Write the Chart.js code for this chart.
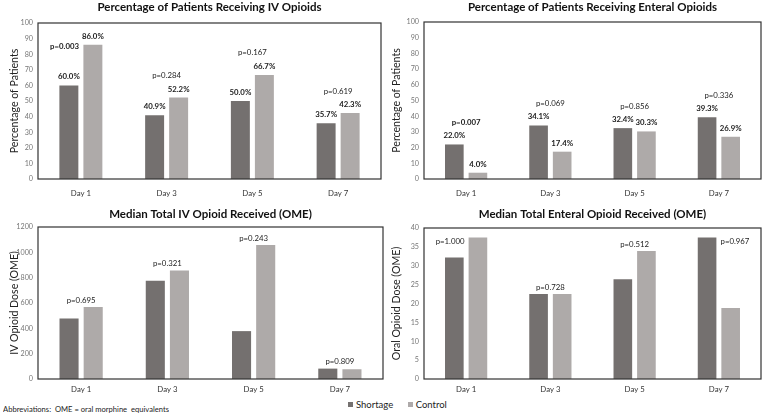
<!DOCTYPE html>
<html>
<head>
<meta charset="utf-8">
<script src="https://cdn.jsdelivr.net/npm/chart.js@4.4.0/dist/chart.umd.min.js"></script>
<style>
  body { margin: 0; background: #fff; font-family: Lato, sans-serif; }
  #wrap { position: relative; width: 764px; height: 416px; overflow: hidden; }
  .box { position: absolute; }
  #abbr { position: absolute; left: 3px; top: 404px; font-size: 7.6px; color: #222; white-space: pre; opacity: 0.99; }
  #legend { position: absolute; left: 348px; top: 399px; font-size: 9.5px; color: #222; opacity: 0.99; }
  #legend span.sw { display: inline-block; width: 5px; height: 5px; margin-right: 3px; vertical-align: 1px; }
  #legend span.it { margin-right: 12px; }
</style>
</head>
<body>
<div id="wrap">
  <div class="box" style="left:0;top:0"><canvas id="c1" width="384" height="200"></canvas></div>
  <div class="box" style="left:382px;top:0"><canvas id="c2" width="382" height="200"></canvas></div>
  <div class="box" style="left:0;top:200px"><canvas id="c3" width="386" height="198"></canvas></div>
  <div class="box" style="left:382px;top:200px"><canvas id="c4" width="382" height="198"></canvas></div>
  <div id="abbr">Abbreviations:  OME = oral morphine  equivalents</div>
  <div id="legend">
    <span class="it"><span class="sw" style="background:#74706f"></span>Shortage</span>
    <span class="it"><span class="sw" style="background:#aeaaa9"></span>Control</span>
  </div>
</div>
<script>
const FONT = 'Lato';
const days = ['Day 1', 'Day 3', 'Day 5', 'Day 7'];

// % of patients receiving IV opioids
const ivPctShortage = [60.0, 40.9, 50.0, 35.7];
const ivPctControl = [86.0, 52.2, 66.7, 42.3];
const ivPctP = ['0.003', '0.284', '0.167', '0.619'];

// % of patients receiving enteral opioids
const entPctShortage = [22.0, 34.1, 32.4, 39.3];
const entPctControl = [4.0, 17.4, 30.3, 26.9];
const entPctP = ['0.007', '0.069', '0.856', '0.336'];

// median total IV opioid (OME)
const ivDoseShortage = [478, 775, 378, 82];
const ivDoseControl = [568, 857, 1058, 77];
const ivDoseP = ['0.695', '0.321', '0.243', '0.809'];

// median total enteral opioid (OME)
const entDoseShortage = [32.2, 22.5, 26.4, 37.5];
const entDoseControl = [37.5, 22.5, 33.9, 18.8];
const entDoseP = ['1.000', '0.728', '0.512', '0.967'];

// value labels, p values and the frame round the plot
const notePlugin = {
  id: 'notes',
  afterDatasetsDraw(chart, args, opts) {
    const ctx = chart.ctx;
    const area = chart.chartArea;
    const a = chart.getDatasetMeta(0).data;
    const b = chart.getDatasetMeta(1).data;
    ctx.save();
    ctx.fillStyle = '#222';
    ctx.textAlign = 'center';
    ctx.textBaseline = 'middle';
    a.forEach((barA, i) => {
      const barB = b[i];
      if (opts.percent) {
        ctx.font = 'bold 7.8px ' + FONT;
        ctx.fillText(chart.data.datasets[0].data[i].toFixed(1) + '%', barA.x, barA.y - 8.5);
        ctx.fillText(chart.data.datasets[1].data[i].toFixed(1) + '%', barB.x, barB.y - 8.5);
      }
      const p = opts.pValues[i];
      const tall = barA.y <= barB.y ? barA : barB;
      const low = tall === barA ? barB : barA;
      let x = (barA.x + barB.x) / 2;
      let y = tall.y - (opts.percent ? 22 : 7);
      if (y - 5 < area.top) {
        // no room above: put it over the lower bar, pushed a little outward
        x = low.x + (low.x - tall.x) * 0.18;
        y = tall.y + (opts.percent ? 2 : 4);
      }
      ctx.font = (parseFloat(p) < 0.05 ? 'bold ' : '') + '7.8px ' + FONT;
      ctx.fillText('p=' + p, x, y);
    });
    ctx.strokeStyle = '#333';
    ctx.lineWidth = 1.2;
    ctx.strokeRect(area.left, area.top, area.width, area.height);
    ctx.restore();
  }
};

function makeChart(id, cfg) {
  return new Chart(document.getElementById(id), {
    type: 'bar',
    data: {
      labels: days,
      datasets: [
        { label: 'Shortage', data: cfg.shortage, backgroundColor: '#74706f', borderWidth: 0 },
        { label: 'Control', data: cfg.control, backgroundColor: '#aeaaa9', borderWidth: 0 }
      ]
    },
    plugins: [notePlugin],
    options: {
      responsive: false,
      animation: false,
      categoryPercentage: 0.56,
      barPercentage: 0.79,
      layout: { padding: { right: 3 } },
      plugins: {
        legend: { display: false },
        tooltip: { enabled: false },
        title: {
          display: true, text: cfg.title, fullSize: false, color: '#111',
          font: { family: FONT, size: 11.5, weight: 'bold' },
          padding: { top: cfg.titleTop, bottom: cfg.titleBottom }
        },
        notes: { pValues: cfg.p, percent: cfg.percent }
      },
      scales: {
        x: {
          grid: { display: false, drawTicks: false },
          border: { display: false },
          ticks: { padding: cfg.xPad, color: '#333', font: { family: FONT, size: 7.8 } },
          afterFit: s => { s.height = cfg.xHeight; }
        },
        y: {
          min: 0, max: cfg.max,
          grid: { display: false, drawTicks: false },
          border: { display: false },
          ticks: {
            stepSize: cfg.step, padding: 5, color: '#777',
            font: { family: FONT, size: 7.2 },
            callback: v => String(v)
          },
          title: {
            display: true, text: cfg.yTitle, color: '#222',
            font: { family: FONT, size: 10.6 }, padding: { top: 8.6, bottom: 0 }
          },
          afterFit: s => { s.width = cfg.yWidth; }
        }
      }
    }
  });
}

makeChart('c1', {
  title: 'Percentage of Patients Receiving IV Opioids', yTitle: 'Percentage of Patients',
  shortage: ivPctShortage, control: ivPctControl, p: ivPctP, percent: true,
  max: 100, step: 10, yWidth: 38, xHeight: 21, xPad: 10, titleTop: 0, titleBottom: 9.2
});
makeChart('c2', {
  title: 'Percentage of Patients Receiving Enteral Opioids', yTitle: 'Percentage of Patients',
  shortage: entPctShortage, control: entPctControl, p: entPctP, percent: true,
  max: 100, step: 10, yWidth: 42, xHeight: 21, xPad: 10, titleTop: 0, titleBottom: 8.2
});
makeChart('c3', {
  title: 'Median Total IV Opioid Received (OME)', yTitle: 'IV Opioid Dose (OME)',
  shortage: ivDoseShortage, control: ivDoseControl, p: ivDoseP, percent: false,
  max: 1200, step: 200, yWidth: 38, xHeight: 19, xPad: 6, titleTop: 7.1, titleBottom: 6.1
});
makeChart('c4', {
  title: 'Median Total Enteral Opioid Received (OME)', yTitle: 'Oral Opioid Dose (OME)',
  shortage: entDoseShortage, control: entDoseControl, p: entDoseP, percent: false,
  max: 40, step: 5, yWidth: 42, xHeight: 19, xPad: 6, titleTop: 7.1, titleBottom: 7.1
});
</script>
</body>
</html>
